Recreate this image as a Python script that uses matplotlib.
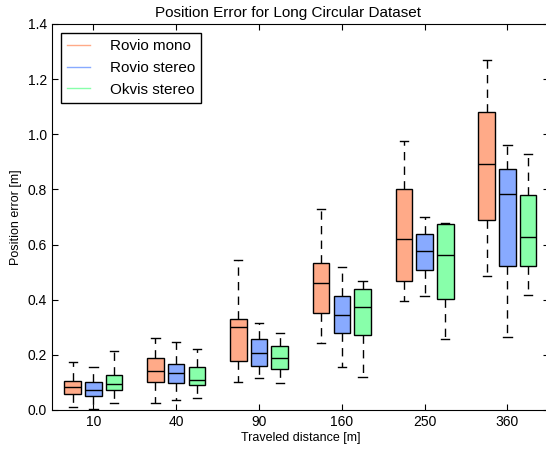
import matplotlib
matplotlib.use('Agg')
import matplotlib.pyplot as plt
from matplotlib.lines import Line2D

plt.rcParams['font.family'] = ['Liberation Sans', 'DejaVu Sans']

distances = ['10', '40', '90', '160', '250', '360']
series = ['Rovio mono', 'Rovio stereo', 'Okvis stereo']
colors = ['#FFAA88', '#88AAFF', '#88FFAA']

# whisker low, q1, median, q3, whisker high for each distance
mono_lo = [0.012, 0.025, 0.103, 0.243, 0.394, 0.485]
mono_q1 = [0.059, 0.103, 0.177, 0.351, 0.469, 0.689]
mono_med = [0.083, 0.143, 0.302, 0.462, 0.619, 0.892]
mono_q3 = [0.106, 0.187, 0.329, 0.532, 0.803, 1.081]
mono_hi = [0.175, 0.262, 0.544, 0.730, 0.977, 1.270]

stereo_lo = [0.002, 0.036, 0.117, 0.156, 0.413, 0.264]
stereo_q1 = [0.051, 0.097, 0.158, 0.278, 0.507, 0.523]
stereo_med = [0.073, 0.134, 0.208, 0.346, 0.577, 0.783]
stereo_q3 = [0.103, 0.168, 0.256, 0.415, 0.637, 0.873]
stereo_hi = [0.157, 0.247, 0.316, 0.519, 0.701, 0.962]

okvis_lo = [0.024, 0.045, 0.098, 0.120, 0.256, 0.416]
okvis_q1 = [0.071, 0.090, 0.149, 0.272, 0.403, 0.522]
okvis_med = [0.093, 0.108, 0.187, 0.374, 0.561, 0.628]
okvis_q3 = [0.128, 0.155, 0.232, 0.438, 0.675, 0.779]
okvis_hi = [0.215, 0.220, 0.279, 0.467, 0.678, 0.930]

all_stats = [
    (mono_lo, mono_q1, mono_med, mono_q3, mono_hi),
    (stereo_lo, stereo_q1, stereo_med, stereo_q3, stereo_hi),
    (okvis_lo, okvis_q1, okvis_med, okvis_q3, okvis_hi),
]

fig = plt.figure(figsize=(5.46, 4.5), dpi=100)
ax = fig.add_axes([0.0952, 0.0889, 0.910, 0.8578])

offsets = [-0.25, 0.0, 0.25]
for k, (lo, q1, med, q3, hi) in enumerate(all_stats):
    stats = []
    for i in range(len(distances)):
        stats.append({'whislo': lo[i], 'q1': q1[i], 'med': med[i],
                      'q3': q3[i], 'whishi': hi[i], 'fliers': []})
    pos = [i + 1 + offsets[k] for i in range(len(distances))]
    ax.bxp(stats, positions=pos, widths=0.2, patch_artist=True,
           showfliers=False, manage_ticks=False,
           boxprops=dict(facecolor=colors[k], edgecolor='black', linewidth=1),
           medianprops=dict(color='black', linewidth=1),
           whiskerprops=dict(color='black', linestyle=(0, (6, 4.5)), linewidth=1),
           capprops=dict(color='black', linewidth=1),
           capwidths=0.1)

ax.set_xlim(0.5, 6.5)
ax.set_ylim(0, 1.4)
ax.set_xticks(range(1, len(distances) + 1))
ax.set_xticklabels(distances)
ax.set_yticks([0.0, 0.2, 0.4, 0.6, 0.8, 1.0, 1.2, 1.4])
ax.set_yticklabels(['0.0', '0.2', '0.4', '0.6', '0.8', '1.0', '1.2', '1.4'])
ax.tick_params(direction='in', top=True, right=True, length=4, labelsize=10)
ax.set_xlabel('Traveled distance [m]', fontsize=9, labelpad=2)
ax.set_ylabel('Position error [m]', fontsize=9)

handles = [Line2D([], [], color=c, linewidth=1) for c in colors]
leg = ax.legend(handles, series, loc='upper left', fontsize=11, fancybox=False,
                edgecolor='black', framealpha=1, borderaxespad=0.6,
                handlelength=1.5, handletextpad=1.3)
leg.get_frame().set_linewidth(1)

fig.suptitle('Position Error for Long Circular Dataset', x=0.527, y=0.987, fontsize=11)

fig.savefig('out.png', dpi=100)
